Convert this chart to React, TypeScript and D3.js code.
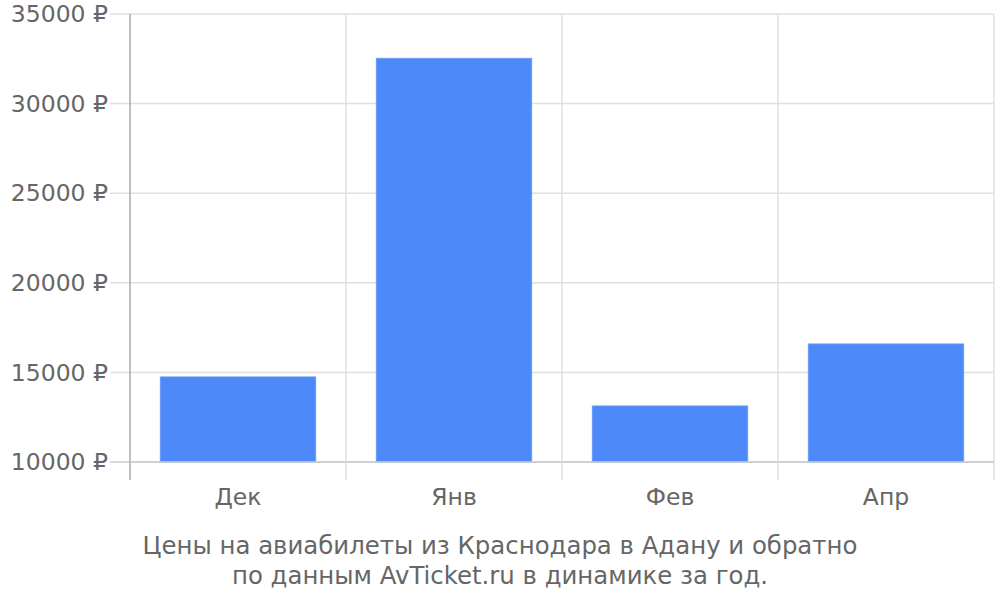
import React from "react";
import * as d3 from "d3";

const categories = ["Дек", "Янв", "Фев", "Апр"];
const prices = [14750, 32530, 13130, 16590];
const yTicks = [10000, 15000, 20000, 25000, 30000, 35000];
const titleLines = [
  "Цены на авиабилеты из Краснодара в Адану и обратно",
  "по данным AvTicket.ru в динамике за год.",
];

export default function App() {
  const W = 1000, H = 600;
  const left = 130, right = 994, top = 14, bottom = 462;
  const x = d3.scaleBand<string>().domain(categories).range([left, right]).paddingInner(0).paddingOuter(0);
  const y = d3.scaleLinear().domain([10000, 35000]).range([bottom, top]);
  const font = "DejaVu Sans, sans-serif";
  const textColor = "#666666";
  const bw = x.bandwidth();
  const inset = bw * 0.14;
  const boundaries = categories.map((c) => x(c)!).concat([right]);
  return (
    <svg width={W} height={H} style={{ position: "absolute", left: 0, top: 0 }} fontFamily={font}>
      <rect x={0} y={0} width={W} height={H} fill="#fff" />
      {yTicks.map((t) => (
        <g key={t}>
          <line x1={left - 20} x2={right} y1={y(t)} y2={y(t)} stroke={t === 10000 ? "#cccccc" : "#e0e0e0"} strokeWidth={1.5} />
          <text x={108} y={y(t)} dy="0.35em" textAnchor="end" fontSize={23.5} fill={textColor}>
            {`${t} ₽`}
          </text>
        </g>
      ))}
      {boundaries.map((bx, i) =>
        i === 0 ? null : (
          <line key={i} x1={bx} x2={bx} y1={top} y2={480} stroke="#e0e0e0" strokeWidth={1.5} />
        )
      )}
      {categories.map((c, i) => (
        <rect
          key={c}
          x={x(c)! + inset}
          y={y(prices[i])}
          width={bw - inset * 2}
          height={bottom - y(prices[i])}
          fill="#4d89f9"
          stroke="#6b9cf9"
          strokeWidth={0.8}
        />
      ))}
      <line x1={left} x2={left} y1={top} y2={480} stroke="#aaaaaa" strokeWidth={1.5} />
      <line x1={left} x2={right} y1={bottom} y2={bottom} stroke="#cccccc" strokeWidth={1.5} />
      {categories.map((c) => (
        <text key={c} x={x(c)! + bw / 2} y={505} textAnchor="middle" fontSize={23.5} fill={textColor}>
          {c}
        </text>
      ))}
      {titleLines.map((l, i) => (
        <text key={i} x={500} y={554 + i * 30} textAnchor="middle" fontSize={24.4} fill={textColor}>
          {l}
        </text>
      ))}
    </svg>
  );
}
